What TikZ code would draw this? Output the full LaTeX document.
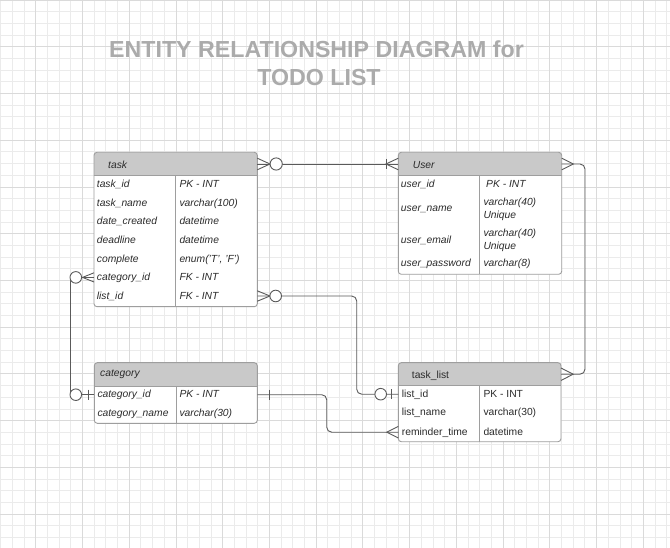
\documentclass[tikz,border=0pt]{standalone}
\usepackage{fontspec}
\setmainfont{Liberation Sans}
\usetikzlibrary{calc}
\definecolor{gridminor}{HTML}{EBEBEB}
\definecolor{gridmajor}{HTML}{DADADA}
\definecolor{tblline}{HTML}{9E9E9E}
\definecolor{hdrfill}{HTML}{C9C9C9}
\definecolor{txt}{HTML}{2B2B2B}
\definecolor{conncol}{HTML}{5A5A5A}
\definecolor{titlecol}{HTML}{ABABAB}
\begin{document}
\begin{tikzpicture}[x=1pt,y=-1pt,
  cell/.style={anchor=base west, inner sep=0pt, text=txt, font=\fontsize{10.3}{12.4}\selectfont\itshape},
  cellup/.style={anchor=base west, inner sep=0pt, text=txt, font=\fontsize{10.3}{12.4}\selectfont},
  ebox/.style={anchor=north west, inner sep=0pt, outer sep=0pt, fill=white, rounded corners=3pt},
  rowbox/.style={anchor=west, inner sep=0pt, outer sep=0pt},
  hdbox/.style={anchor=north west, inner sep=0pt, outer sep=0pt},
  tbl/.style={draw=tblline, line width=0.9pt},
  conn/.style={draw=conncol, line width=0.9pt},
  titletext/.style={anchor=base, inner sep=0pt, text=titlecol, font=\fontsize{23.2}{27}\selectfont\bfseries}
]
\useasboundingbox (0,0) rectangle (670,548);
\fill[white] (0,0) rectangle (670,548);
% grid
\foreach \i in {-3,...,54} {\draw[gridminor, line width=0.8pt] ({35.7+11.685*\i},0) -- ({35.7+11.685*\i},548);}
\foreach \i in {-3,...,42} {\draw[gridminor, line width=0.8pt] (0,{46.7+11.685*\i}) -- (670,{46.7+11.685*\i});}
\foreach \i in {0,...,13} {\draw[gridmajor, line width=0.8pt] ({35.7+46.74*\i},0) -- ({35.7+46.74*\i},548);}
\foreach \i in {-1,...,10} {\draw[gridmajor, line width=0.8pt] (0,{46.7+46.74*\i}) -- (670,{46.7+46.74*\i});}

% title
\node[titletext] (title1) at (316.5,57.7) {ENTITY RELATIONSHIP DIAGRAM for};
\node[titletext] (title2) at (319,85.3) {TODO LIST};

% ---------------- task ----------------
\node[ebox, minimum width=163.3pt, minimum height=154.4pt] (task) at (94,152.3) {};
\fill[hdrfill, rounded corners=3pt] (task.north west) rectangle ($(task.north east)+(0,23.4)$);
\fill[hdrfill] ($(task.north west)+(0,10)$) rectangle ($(task.north east)+(0,23.4)$);
\draw[tbl, rounded corners=3pt] (task.north west) rectangle (task.south east);
\draw[tbl] ($(task.north west)+(0,23.4)$) -- ($(task.north east)+(0,23.4)$);
\draw[tbl] ($(task.north west)+(81.7,23.4)$) -- ($(task.south west)+(81.7,0)$);
\node[hdbox, minimum width=163.3pt, minimum height=23.4pt] (task-hd) at (94,152.3) {};
\node[cell] (task-title) at (108,168.5) {task};
\foreach \n/\y/\a/\b in {1/184.3/task\_id/PK - INT,
                         2/202.9/task\_name/varchar(100),
                         3/221.5/date\_created/datetime,
                         4/240.2/deadline/datetime,
                         5/258.8/complete/{enum('T', 'F')},
                         6/277.4/category\_id/FK - INT,
                         7/296.0/list\_id/FK - INT} {
  \node[rowbox, minimum width=163.3pt, minimum height=18.6pt] (task-r\n) at (94,\y) {};
  \node[cell] (task-a\n) at ($(task-r\n.west)+(2.7,3.5)$) {\a};
  \node[cell] (task-b\n) at ($(task-r\n.west)+(85.3,3.5)$) {\b};
}

% ---------------- User ----------------
\node[ebox, minimum width=163.4pt, minimum height=122pt] (user) at (398.3,152.3) {};
\fill[hdrfill, rounded corners=3pt] (user.north west) rectangle ($(user.north east)+(0,23.4)$);
\fill[hdrfill] ($(user.north west)+(0,10)$) rectangle ($(user.north east)+(0,23.4)$);
\draw[tbl, rounded corners=3pt] (user.north west) rectangle (user.south east);
\draw[tbl] ($(user.north west)+(0,23.4)$) -- ($(user.north east)+(0,23.4)$);
\draw[tbl] ($(user.north west)+(81,23.4)$) -- ($(user.south west)+(81,0)$);
\node[hdbox, minimum width=163.4pt, minimum height=23.4pt] (user-hd) at (398.3,152.3) {};
\node[cell] (user-title) at (412.7,168.5) {User};
\node[rowbox, minimum width=163.4pt, minimum height=18.6pt] (user-r1) at (398.3,184.3) {};
\node[rowbox, minimum width=163.4pt, minimum height=31pt] (user-r2) at (398.3,208.4) {};
\node[rowbox, minimum width=163.4pt, minimum height=31pt] (user-r3) at (398.3,239.8) {};
\node[rowbox, minimum width=163.4pt, minimum height=18.6pt] (user-r4) at (398.3,263.4) {};
\node[cell] (user-a1) at ($(user-r1.west)+(2.4,3.5)$) {user\_id};
\node[cell] (user-b1) at ($(user-r1.west)+(87.7,3.5)$) {PK - INT};
\node[cell] (user-a2) at ($(user-r2.west)+(2.4,3.5)$) {user\_name};
\node[cell] (user-b2) at ($(user-r2.west)+(85,-3.2)$) {varchar(40)};
\node[cell] (user-c2) at ($(user-r2.west)+(85,10.1)$) {Unique};
\node[cell] (user-a3) at ($(user-r3.west)+(2.4,3.5)$) {user\_email};
\node[cell] (user-b3) at ($(user-r3.west)+(85,-3.2)$) {varchar(40)};
\node[cell] (user-c3) at ($(user-r3.west)+(85,10.1)$) {Unique};
\node[cell] (user-a4) at ($(user-r4.west)+(2.4,3.5)$) {user\_password};
\node[cell] (user-b4) at ($(user-r4.west)+(85,3.5)$) {varchar(8)};

% ---------------- category ----------------
\node[ebox, minimum width=163pt, minimum height=60.6pt] (cat) at (94.3,362.7) {};
\fill[hdrfill, rounded corners=3pt] (cat.north west) rectangle ($(cat.north east)+(0,23.3)$);
\fill[hdrfill] ($(cat.north west)+(0,10)$) rectangle ($(cat.north east)+(0,23.3)$);
\draw[tbl, rounded corners=3pt] (cat.north west) rectangle (cat.south east);
\draw[tbl] ($(cat.north west)+(0,23.3)$) -- ($(cat.north east)+(0,23.3)$);
\draw[tbl] ($(cat.north west)+(81.7,23.3)$) -- ($(cat.south west)+(81.7,0)$);
\node[hdbox, minimum width=163pt, minimum height=23.3pt] (cat-hd) at (94.3,362.7) {};
\node[cell] (cat-title) at (100,376.8) {category};
\node[rowbox, minimum width=163pt, minimum height=18.6pt] (cat-r1) at (94.3,394.7) {};
\node[rowbox, minimum width=163pt, minimum height=18.6pt] (cat-r2) at (94.3,413.3) {};
\node[cell] (cat-a1) at ($(cat-r1.west)+(3,3.1)$) {category\_id};
\node[cell] (cat-b1) at ($(cat-r1.west)+(85,3.1)$) {PK - INT};
\node[cell] (cat-a2) at ($(cat-r2.west)+(3,3.5)$) {category\_name};
\node[cell] (cat-b2) at ($(cat-r2.west)+(85,3.5)$) {varchar(30)};

% ---------------- task_list ----------------
\node[ebox, minimum width=162.7pt, minimum height=79pt] (tl) at (398.3,362.7) {};
\fill[hdrfill, rounded corners=3pt] (tl.north west) rectangle ($(tl.north east)+(0,23)$);
\fill[hdrfill] ($(tl.north west)+(0,10)$) rectangle ($(tl.north east)+(0,23)$);
\draw[tbl, rounded corners=3pt] (tl.north west) rectangle (tl.south east);
\draw[tbl] ($(tl.north west)+(0,23)$) -- ($(tl.north east)+(0,23)$);
\draw[tbl] ($(tl.north west)+(81,23)$) -- ($(tl.south west)+(81,0)$);
\node[hdbox, minimum width=162.7pt, minimum height=23pt] (tl-hd) at (398.3,362.7) {};
\node[cellup] (tl-title) at (411.7,378.5) {task\_list};
\node[rowbox, minimum width=162.7pt, minimum height=18.6pt] (tl-r1) at (398.3,394.2) {};
\node[rowbox, minimum width=162.7pt, minimum height=18.6pt] (tl-r2) at (398.3,412.6) {};
\node[rowbox, minimum width=162.7pt, minimum height=18.6pt] (tl-r3) at (398.3,432.2) {};
\node[cellup] (tl-a1) at ($(tl-r1.west)+(3.4,2.9)$) {list\_id};
\node[cellup] (tl-b1) at ($(tl-r1.west)+(85,2.9)$) {PK - INT};
\node[cellup] (tl-a2) at ($(tl-r2.west)+(3.4,3.3)$) {list\_name};
\node[cellup] (tl-b2) at ($(tl-r2.west)+(85,3.3)$) {varchar(30)};
\node[cellup] (tl-a3) at ($(tl-r3.west)+(3.4,3.0)$) {reminder\_time};
\node[cellup] (tl-b3) at ($(tl-r3.west)+(85,3.0)$) {datetime};

% ---------------- connectors ----------------
% task -- User
\draw[conn] (task-hd.east) -- (user-hd.west);
\draw[conn] ($(task-hd.east)+(0,-5.8)$) -- ($(task-hd.east)+(12.7,0)$) -- ($(task-hd.east)+(0,5.8)$);
\draw[conn, fill=white] ($(task-hd.east)+(18.9,0)$) circle[radius=6.1pt];
\draw[conn] ($(user-hd.west)+(0,-5.8)$) -- ($(user-hd.west)+(-12.3,0)$) -- ($(user-hd.west)+(0,5.8)$);
\draw[conn] ($(user-hd.west)+(-12.3,-5)$) -- ($(user-hd.west)+(-12.3,5)$);

% User -- task_list
\draw[conn, rounded corners=5pt] (user-hd.east) -- ++(23.3,0) |- (tl-hd.east);
\draw[conn] ($(user-hd.east)+(0,-5.8)$) -- ($(user-hd.east)+(11.6,0)$) -- ($(user-hd.east)+(0,5.8)$);
\draw[conn] ($(tl-hd.east)+(0,-6.2)$) -- ($(tl-hd.east)+(12.3,0)$) -- ($(tl-hd.east)+(0,6.2)$);

% task.category_id -- category.category_id
\draw[conn] (task-r6.west) -- ++(-24,0) |- (cat-r1.west);
\draw[conn] ($(task-r6.west)+(0,-4.6)$) -- ($(task-r6.west)+(-11.5,0)$) -- ($(task-r6.west)+(0,4.6)$);
\draw[conn, fill=white] ($(task-r6.west)+(-18.2,0)$) circle[radius=5.8pt];
\draw[conn] ($(cat-r1.west)+(-6,-5)$) -- ($(cat-r1.west)+(-6,5)$);
\draw[conn, fill=white] ($(cat-r1.west)+(-18.5,0)$) circle[radius=5.8pt];

% task.list_id -- task_list.list_id
\draw[conn, rounded corners=5pt] (task-r7.east) -- ++(99.4,0) |- (tl-r1.west);
\draw[conn] ($(task-r7.east)+(0,-5.2)$) -- ($(task-r7.east)+(12.7,0)$) -- ($(task-r7.east)+(0,5.2)$);
\draw[conn, fill=white] ($(task-r7.east)+(18.4,0)$) circle[radius=5.8pt];
\draw[conn] ($(tl-r1.west)+(-6.6,-5)$) -- ($(tl-r1.west)+(-6.6,5)$);
\draw[conn, fill=white] ($(tl-r1.west)+(-17.6,0)$) circle[radius=5.8pt];

% category.category_id -- task_list.reminder_time
\draw[conn, rounded corners=5pt] (cat-r1.east) -- ++(69.4,0) |- (tl-r3.west);
\draw[conn] ($(cat-r1.east)+(12,-5)$) -- ($(cat-r1.east)+(12,5)$);
\draw[conn] ($(tl-r3.west)+(0,-5.8)$) -- ($(tl-r3.west)+(-11.6,0)$) -- ($(tl-r3.west)+(0,5.8)$);
\end{tikzpicture}
\end{document}
